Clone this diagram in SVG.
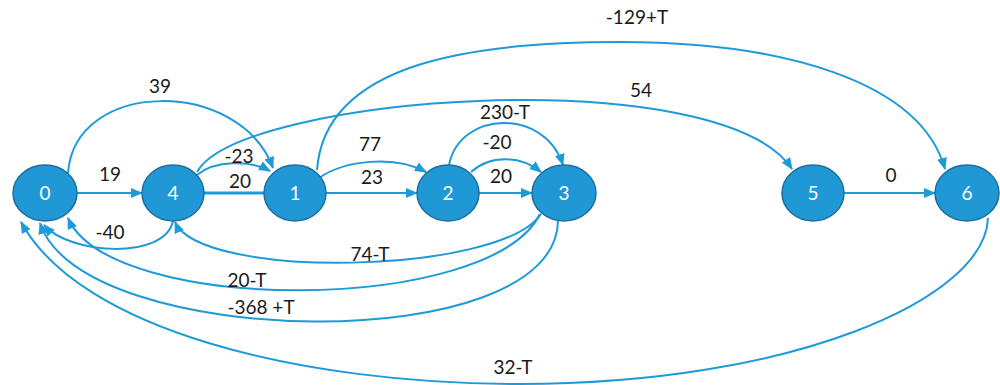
<svg xmlns="http://www.w3.org/2000/svg" width="1000" height="385" viewBox="0 0 1000 385">
  <style>
    .edge { fill: none; stroke: #1f9ad8; stroke-width: 2; }
    .thick { stroke-width: 3; }
    .node ellipse { fill: #1f98d5; stroke: #1d6e9e; stroke-width: 1.5; }
    .node text { fill: #ffffff; font-family: Lato, "Open Sans", sans-serif; font-size: 19px; text-anchor: middle; }
    .lbl { fill: #1a1a1a; font-family: Lato, "Open Sans", sans-serif; font-size: 19px; text-anchor: middle; }
  </style>
  <defs>
    <marker id="arrow" markerUnits="userSpaceOnUse" markerWidth="12" markerHeight="10" refX="11" refY="5" orient="auto">
      <path d="M0,0 L12,5 L0,10 Z" fill="#1f9ad8"/>
    </marker>
  </defs>
  <rect width="1000" height="385" fill="#ffffff"/>

  <g id="connectors">
    <!-- straight edges -->
    <path class="edge" d="M77,193 L142,193" marker-end="url(#arrow)"/>
    <path class="edge thick" d="M204,193 L265,193"/>
    <path class="edge" d="M326,193 L417,193" marker-end="url(#arrow)"/>
    <path class="edge" d="M479,193 L532,193" marker-end="url(#arrow)"/>
    <path class="edge" d="M844,193 L935,193" marker-end="url(#arrow)"/>
    <!-- arcs above -->
    <path class="edge" d="M68,173 C75,78 240,78 273,168" marker-end="url(#arrow)"/>
    <path class="edge" d="M197,175 C215,160 250,160 270,171" marker-end="url(#arrow)"/>
    <path class="edge" d="M197,172 C240,95 720,60 792,169" marker-end="url(#arrow)"/>
    <path class="edge" d="M317,170 C325,60 480,42 620,42 C780,42 920,80 945,169" marker-end="url(#arrow)"/>
    <path class="edge" d="M319,178 C345,160 395,155 426,172" marker-end="url(#arrow)"/>
    <path class="edge" d="M449,165 C460,110 545,108 563,165" marker-end="url(#arrow)"/>
    <path class="edge" d="M471,172 C490,155 520,155 541,172" marker-end="url(#arrow)"/>
    <!-- arcs below -->
    <path class="edge" d="M173,221 C165,260 70,255 44,225" marker-end="url(#arrow)"/>
    <path class="edge" d="M541,214 C500,275 200,280 175,222" marker-end="url(#arrow)"/>
    <path class="edge" d="M540,214 C490,315 110,315 68,218" marker-end="url(#arrow)"/>
    <path class="edge" d="M558,219 C560,360 80,350 40,223" marker-end="url(#arrow)"/>
    <path class="edge" d="M988,218 C985,300 790,384 520,384 C300,384 80,330 21,222" marker-end="url(#arrow)"/>
  </g>

  <g id="edge-labels">
    <text class="lbl" x="637" y="24">-129+T</text>
    <text class="lbl" x="641" y="97">54</text>
    <text class="lbl" x="160" y="93">39</text>
    <text class="lbl" x="505" y="119">230-T</text>
    <text class="lbl" x="370" y="151">77</text>
    <text class="lbl" x="497" y="149">-20</text>
    <text class="lbl" x="239" y="163">-23</text>
    <text class="lbl" x="110" y="181">19</text>
    <text class="lbl" x="240" y="188">20</text>
    <text class="lbl" x="372" y="184">23</text>
    <text class="lbl" x="501" y="183">20</text>
    <text class="lbl" x="891" y="182">0</text>
    <text class="lbl" x="110" y="239">-40</text>
    <text class="lbl" x="370" y="261">74-T</text>
    <text class="lbl" x="247" y="287">20-T</text>
    <text class="lbl" x="261" y="314">-368 +T</text>
    <text class="lbl" x="513" y="374">32-T</text>
  </g>

  <g id="node-0" class="node"><ellipse cx="45" cy="193" rx="32" ry="28"/><text x="45" y="200">0</text></g>
  <g id="node-4" class="node"><ellipse cx="173" cy="193" rx="31" ry="28"/><text x="173" y="200">4</text></g>
  <g id="node-1" class="node"><ellipse cx="295" cy="193" rx="31" ry="28"/><text x="295" y="200">1</text></g>
  <g id="node-2" class="node"><ellipse cx="448" cy="193" rx="31" ry="28"/><text x="448" y="200">2</text></g>
  <g id="node-3" class="node"><ellipse cx="564" cy="193" rx="32" ry="28"/><text x="564" y="200">3</text></g>
  <g id="node-5" class="node"><ellipse cx="813" cy="193" rx="31" ry="28"/><text x="813" y="200">5</text></g>
  <g id="node-6" class="node"><ellipse cx="967" cy="193" rx="32" ry="28"/><text x="967" y="200">6</text></g>
</svg>
